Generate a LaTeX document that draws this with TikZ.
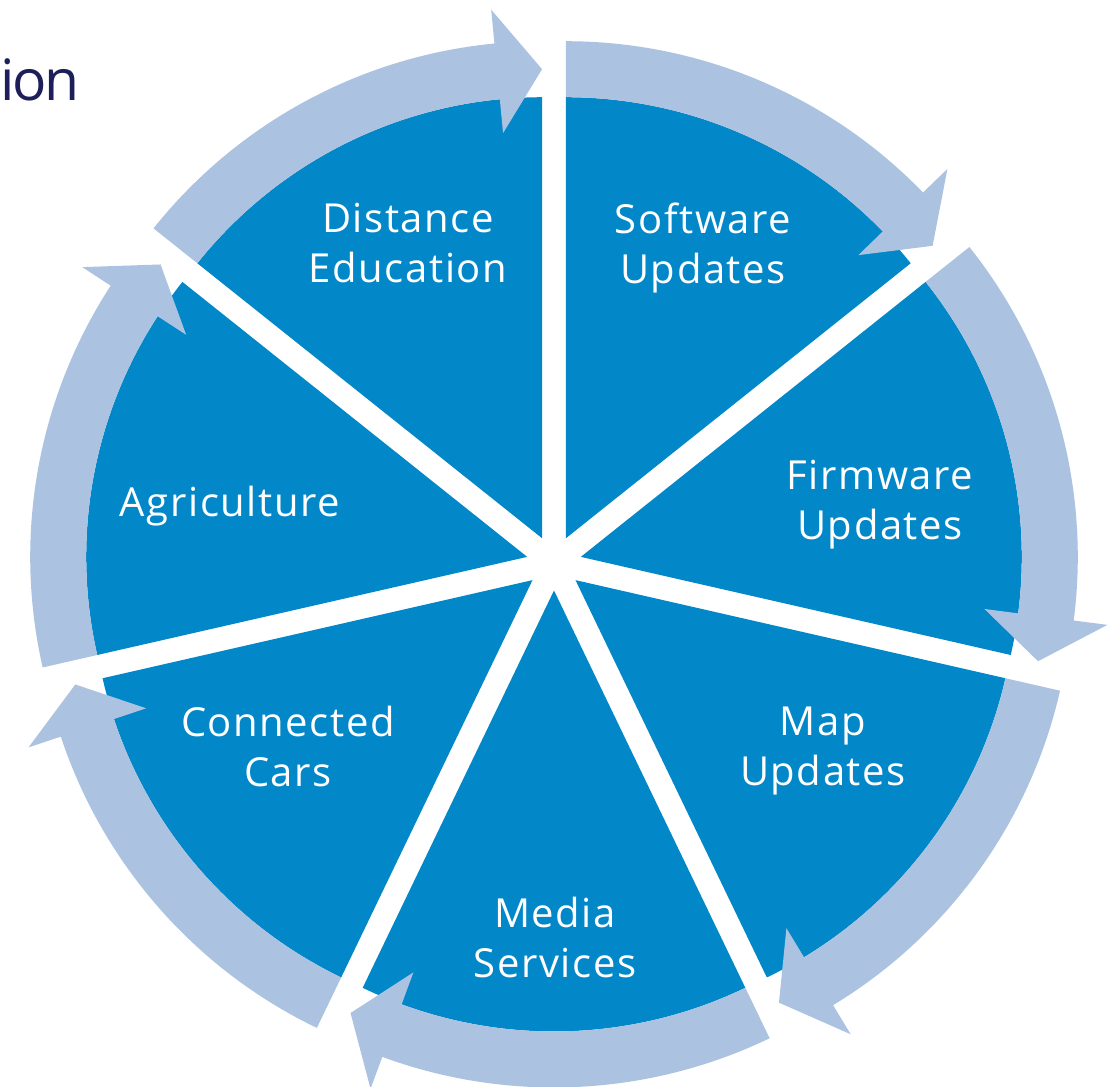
\documentclass[tikz,border=0pt]{standalone}
\usepackage{fontspec}
\setmainfont{Open Sans}
\newfontfamily\segfont[LetterSpace=4]{Open Sans}
\newfontfamily\titlefont[LetterSpace=-4]{Open Sans}
\usepackage{tikz}
\usetikzlibrary{calc}

\definecolor{segblue}{RGB}{2,135,201}
\definecolor{ringblue}{RGB}{171,195,225}
\definecolor{titlenavy}{RGB}{30,31,90}

\begin{document}
\begin{tikzpicture}[x=1pt,y=1pt,
                    segment/.style={fill=segblue},
                    cyclearrow/.style={fill=ringblue}]
  \tikzstyle{seglabel}=[text=white,align=center,inner sep=0pt,
                        font=\segfont\fontsize{40}{50}\selectfont]
  \tikzstyle{title}=[text=titlenavy,inner sep=0pt,
                     font=\titlefont\fontsize{57}{70}\selectfont]

  \path[fill=white,use as bounding box] (0,0) rectangle (1120,1087);
  \coordinate (c) at (554,524);

  % seven exploded segments, each with its own arrow, clockwise from the top
  \foreach \k in {0,...,6}{
    \pgfmathsetmacro{\as}{90-360/7*\k}
    \pgfmathsetmacro{\ae}{\as-360/7}
    \pgfmathsetmacro{\ah}{\ae+5.5}
    \pgfmathsetmacro{\bis}{\as-180/7}
    \coordinate (o\k) at ($(c)+(\bis:27.5)$);
    \begin{scope}[shift={(o\k)}]
      \fill[segment] (0,0) -- (\as:441)
        arc[start angle=\as,end angle=\ae,radius=441] -- cycle;
      \fill[cyclearrow] (\as:441) -- (\as:497)
        arc[start angle=\as,end angle=\ah,radius=497]
        -- (\ah:531) -- (\ae:469) -- (\ah:407) -- (\ah:441)
        arc[start angle=\ah,end angle=\as,radius=441] -- cycle;
    \end{scope}
  }

  \node[title,anchor=base west] (title) at (0.5,986) {ion};

  \node[seglabel] (software) at (703,839)   {Software\\Updates};
  \node[seglabel] (firmware) at (880,582)   {Firmware\\Updates};
  \node[seglabel] (map)      at (823,335.5) {Map\\Updates};
  \node[seglabel] (media)    at (555,149.5) {Media\\Services};
  \node[seglabel] (cars)     at (288,340)   {Connected\\Cars};
  \node[seglabel] (agri)     at (230,581)   {Agriculture};
  \node[seglabel] (distance) at (408,843.5) {Distance\\Education};
\end{tikzpicture}
\end{document}
